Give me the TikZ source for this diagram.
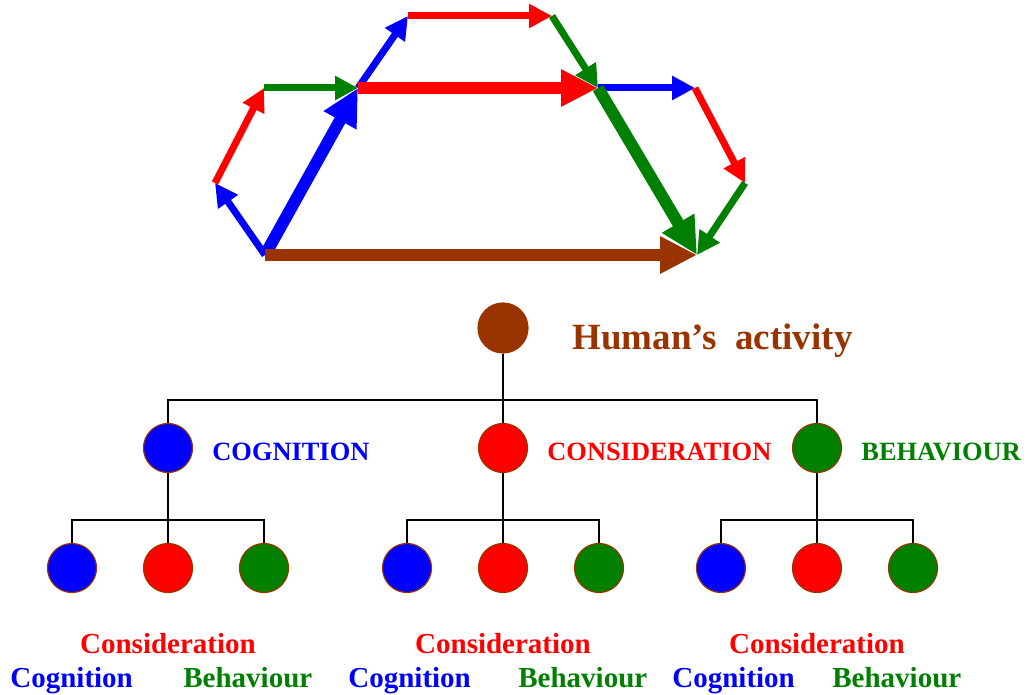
\documentclass[tikz,border=0pt]{standalone}
\usepackage{fontspec}
\setmainfont{Liberation Serif}
\usetikzlibrary{arrows.meta}

\definecolor{cogblue}{RGB}{0,0,255}
\definecolor{conred}{RGB}{255,0,0}
\definecolor{behgreen}{RGB}{0,128,0}
\definecolor{actbrown}{RGB}{153,51,0}

\tikzset{
  thinarr/.style={line width=3.5pt,-{Triangle[length=11.5pt,width=11.5pt]}},
  thickarr/.style={line width=6pt,-{Triangle[length=18.5pt,width=17.5pt]}},
  dot/.style={circle,draw=actbrown,line width=0.6pt,inner sep=0pt,minimum size=24.5pt},
  biglab/.style={inner sep=0pt,font=\fontsize{18.5}{22}\selectfont\bfseries},
  midlab/.style={inner sep=0pt,font=\fontsize{13.2}{16}\selectfont\bfseries},
  smalllab/.style={inner sep=0pt,font=\fontsize{14.5}{17}\selectfont\bfseries},
}

\begin{document}
\begin{tikzpicture}[x=0.5pt,y=-0.5pt]
  \useasboundingbox (0,0) rectangle (1029,695);

  % points of the paths
  \foreach \n/\x/\y in {
    s/265/255, e/697/255,
    a1/215/183, a2/264/88,
    m1/358/88, m2/598/88,
    b1/408/16, b2/552/16,
    c1/695/88, c2/745/183}
    \coordinate (\n) at (\x,\y);

  \foreach \a/\b/\c in {
    s/a1/cogblue, a1/a2/conred, a2/m1/behgreen,
    m1/b1/cogblue, b1/b2/conred, b2/m2/behgreen,
    m2/c1/cogblue, c1/c2/conred, c2/e/behgreen}
    \draw[thinarr,\c] (\a) -- (\b);
  \foreach \a/\b/\c in {
    s/m1/cogblue, m1/m2/conred, m2/e/behgreen, s/e/actbrown}
    \draw[thickarr,\c] (\a) -- (\b);

  % tree
  \node[dot,fill=actbrown,minimum size=25pt] (root) at (503,328) {};
  \node[biglab,text=actbrown,anchor=base west] (root-lab) at (572,350) {Human’s\ \ activity};
  \coordinate (bus) at (503,400);

  \foreach \g/\x/\c/\t/\cl in {
    cog/168/cogblue/COGNITION/10,
    con/503/conred/CONSIDERATION/348,
    beh/817/behgreen/BEHAVIOUR/672} {
    \node[dot,fill=\c] (\g) at (\x,448) {};
    \node[midlab,text=\c,anchor=base west] (\g-lab) at (\x+44,460) {\t};
    \coordinate (\g-bus) at (\x,520);
    \foreach \k/\dx/\kc in {b/-96/cogblue, r/0/conred, g/96/behgreen}
      \node[dot,fill=\kc] (\g-\k) at (\x+\dx,568) {};
    \draw[line width=1pt] (\g.south) -- (\g-r.north);
    \draw[line width=1pt] (\g-b.north) |- (\g-bus) -| (\g-g.north);
    \node[smalllab,text=conred,anchor=base] (\g-con) at (\x,653) {Consideration};
    \node[smalllab,text=cogblue,anchor=base west] (\g-cog) at (\cl,687) {Cognition};
    \node[smalllab,text=behgreen,anchor=base west] (\g-beh) at (\x+15,687) {Behaviour};
  }
  \draw[line width=1pt] (root.south) -- (con.north);
  \draw[line width=1pt] (cog.north) |- (bus) -| (beh.north);
\end{tikzpicture}
\end{document}
